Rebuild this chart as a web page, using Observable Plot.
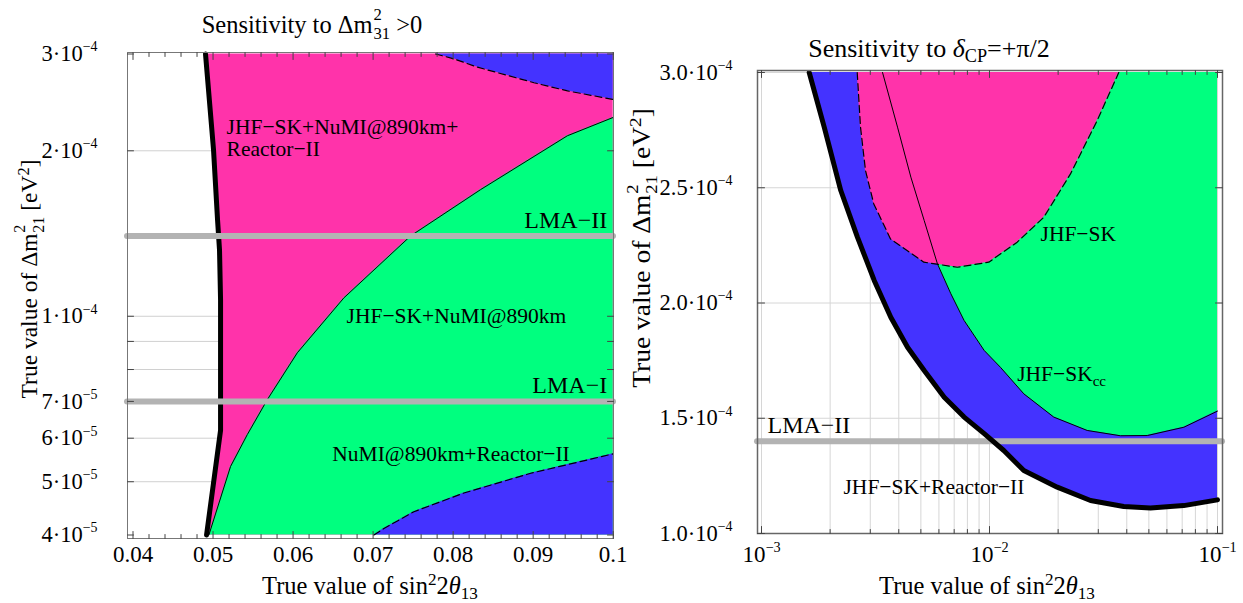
<!DOCTYPE html>
<html>
<head>
<meta charset="utf-8">
<script src="https://cdn.jsdelivr.net/npm/d3@7"></script>
<script src="https://cdn.jsdelivr.net/npm/@observablehq/plot@0.6"></script>
<style>
  html, body { margin: 0; padding: 0; background: #fff; }
  #wrap { position: relative; width: 1243px; height: 603px; overflow: hidden; font-family: "Liberation Serif", "DejaVu Serif", serif; color: #000; background: #fff; }
  .panel { position: absolute; top: 0; }
  .lbl { position: absolute; white-space: nowrap; transform: translate(-50%, -50%); line-height: 1; }
  .rot { transform: translate(-50%, -50%) rotate(-90deg); }
  .rot2 { transform: translate(-50%, -50%) rotate(-90deg) scaleX(1.1); }
  .title { font-size: 26px; }
  .axl { font-size: 24.5px; }
  .sup { font-size: 70%; vertical-align: 0.5em; line-height: 0; }
  .sub { font-size: 70%; vertical-align: -0.3em; line-height: 0; }
  .ss { display: inline-block; position: relative; width: 1.05em; height: 1em; font-size: 0.68em; }
  .ss span { position: absolute; left: 0.05em; line-height: 1; }
  .ss .u { top: -0.55em; }
  .ss .d { top: 0.6em; }
</style>
</head>
<body>
<div id="wrap">
  <div id="left" class="panel" style="left:0px"></div>
  <div id="right" class="panel" style="left:620px"></div>
  <div class="lbl title" style="left:312px;top:25px;font-size:24.5px">Sensitivity to Δm<span class="ss"><span class="u">2</span><span class="d">31</span></span> &gt;0</div>
  <div class="lbl title" style="left:929px;top:49px">Sensitivity to <i>δ</i><span class="sub">CP</span>=+π/2</div>
  <div class="lbl axl" style="left:370px;top:586px">True value of sin<span class="sup">2</span>2<i>θ</i><span class="sub">13</span></div>
  <div class="lbl axl" style="left:987px;top:586px">True value of sin<span class="sup">2</span>2<i>θ</i><span class="sub">13</span></div>
  <div class="lbl axl rot" style="left:30px;top:279px;font-size:23.5px">True value of Δm<span class="ss"><span class="u">2</span><span class="d">21</span></span> [eV<span class="sup">2</span>]</div>
  <div class="lbl axl rot2" style="left:641px;top:248px;font-size:25px">True value of Δm<span class="ss"><span class="u">2</span><span class="d">21</span></span> [eV<span class="sup">2</span>]</div>
</div>
<script>
// ================= LEFT PANEL: Sensitivity to Δm²31 > 0 =================
const leftXTicks = [0.04, 0.05, 0.06, 0.07, 0.08, 0.09, 0.1];
const leftXTickLabels = ["0.04", "0.05", "0.06", "0.07", "0.08", "0.09", "0.1"];
const leftYTicks = [4e-5, 5e-5, 6e-5, 7e-5, 1e-4, 2e-4, 3e-4];
const leftYTickLabels = ["4·10^−5", "5·10^−5", "6·10^−5", "7·10^−5", "1·10^−4", "2·10^−4", "3·10^−4"];
const leftYGrid = [5e-5, 6e-5, 7e-5, 8e-5, 9e-5, 1e-4, 2e-4];
const leftXDomain = [0.04, 0.1];
const leftYDomain = [4e-5, 3e-4];

// JHF-SK+NuMI@890km+Reactor-II (thick black boundary)
const allS  = [0.04906, 0.05006, 0.05056, 0.05081, 0.05094, 0.05094, 0.04919];
const allDm = [3.0e-4, 2.01e-4, 1.50e-4, 1.32e-4, 1.07e-4, 6.2e-5, 4.0e-5];
// JHF-SK+NuMI@890km (thin solid boundary)
const jnS  = [0.04948, 0.05219, 0.05428, 0.05678, 0.06053, 0.06635, 0.07469, 0.08344, 0.09428, 0.1];
const jnDm = [4.0e-5, 5.33e-5, 6.09e-5, 7.05e-5, 8.58e-5, 1.08e-4, 1.40e-4, 1.70e-4, 2.13e-4, 2.30e-4];
// NuMI@890km+Reactor-II (dashed, lower region)
const nrLowS  = [0.0701, 0.07135, 0.0751, 0.08135, 0.08969, 0.1];
const nrLowDm = [4.0e-5, 4.11e-5, 4.41e-5, 4.77e-5, 5.18e-5, 5.62e-5];
// NuMI@890km+Reactor-II (dashed, upper region)
const nrHighS  = [0.0778, 0.0801, 0.0830, 0.0901, 0.0943, 0.1];
const nrHighDm = [3.0e-4, 2.94e-4, 2.84e-4, 2.66e-4, 2.57e-4, 2.48e-4];
// LMA solutions
const leftLma = [7e-5, 1.4e-4];
const leftLmaNames = ["LMA−I", "LMA−II"];

// ================= RIGHT PANEL: Sensitivity to δCP = +π/2 =================
const rightXTicks = [1e-3, 1e-2, 1e-1];
const rightXTickLabels = ["10^−3", "10^−2", "10^−1"];
const rightYTicks = [1.0e-4, 1.5e-4, 2.0e-4, 2.5e-4, 3.0e-4];
const rightYTickLabels = ["1.0·10^−4", "1.5·10^−4", "2.0·10^−4", "2.5·10^−4", "3.0·10^−4"];
const rightXDomain = [1e-3, 1e-1];
const rightYDomain = [1e-4, 3e-4];

// JHF-SK+Reactor-II (thick black)
const jrS  = [1.619e-3, 1.884e-3, 2.227e-3, 2.637e-3, 3.121e-3, 3.69e-3, 4.37e-3, 5.17e-3, 6.33e-3, 7.74e-3, 9.48e-3, 1.155e-2, 1.414e-2, 1.982e-2, 2.773e-2, 3.88e-2, 5.08e-2, 7.11e-2, 0.1];
const jrDm = [3.0e-4, 2.763e-4, 2.488e-4, 2.285e-4, 2.098e-4, 1.938e-4, 1.808e-4, 1.707e-4, 1.591e-4, 1.505e-4, 1.433e-4, 1.360e-4, 1.273e-4, 1.201e-4, 1.143e-4, 1.117e-4, 1.111e-4, 1.121e-4, 1.146e-4];
// JHF-SK_cc (thin solid)
const ccS  = [3.395e-3, 3.95e-3, 4.52e-3, 5.17e-3, 5.91e-3, 6.77e-3, 7.74e-3, 9.48e-3, 1.117e-2, 1.414e-2, 1.914e-2, 2.683e-2, 3.755e-2, 4.92e-2, 7.12e-2, 0.1];
const ccDm = [3.0e-4, 2.763e-4, 2.546e-4, 2.358e-4, 2.170e-4, 2.040e-4, 1.924e-4, 1.794e-4, 1.721e-4, 1.606e-4, 1.505e-4, 1.447e-4, 1.424e-4, 1.425e-4, 1.461e-4, 1.531e-4];
// JHF-SK (dashed)
const jS  = [2.629e-3, 2.718e-3, 2.858e-3, 3.108e-3, 3.68e-3, 5.15e-3, 7.22e-3, 9.93e-3, 1.323e-2, 1.731e-2, 2.266e-2, 2.968e-2, 3.69e-2];
const jDm = [3.0e-4, 2.763e-4, 2.575e-4, 2.430e-4, 2.278e-4, 2.177e-4, 2.155e-4, 2.177e-4, 2.264e-4, 2.372e-4, 2.560e-4, 2.792e-4, 3.0e-4];
const rightLma = [1.4e-4];
const rightLmaNames = ["LMA−II"];

// ================= styling =================
const PINK = "#ff33aa", GREEN = "#00ff7f", BLUE = "#4433ff", LMA_GRAY = "#b3b3b3";
const zip = (xs, ys) => xs.map((x, i) => ({x, y: ys[i]}));

const tickShape = {draw(ctx, l) { ctx.moveTo(0, 0); ctx.lineTo(0, -l); }};
const rot = {bottom: 0, top: 180, left: 90, right: 270};
function inTicks(values, dim, side, len) {
  return Plot.vector(values, {[dim]: d => d, frameAnchor: side, length: len, rotate: rot[side],
    anchor: "start", shape: tickShape, stroke: "#444", strokeWidth: 1});
}

// superscript / subscript post-processing of SVG texts ("^" or "_" marker)
function richify(svg) {
  const ns = "http://www.w3.org/2000/svg";
  svg.querySelectorAll("text").forEach(t => {
    if (t.querySelector("tspan")) return;
    const s = t.textContent;
    const m = s.match(/^(.*?)([\^_])(.*)$/);
    if (!m) return;
    t.textContent = "";
    const a = document.createElementNS(ns, "tspan"); a.textContent = m[1]; t.appendChild(a);
    const b = document.createElementNS(ns, "tspan"); b.textContent = m[3];
    b.setAttribute("font-size", m[2] === "^" ? "62%" : "70%");
    b.setAttribute("dy", m[2] === "^" ? "-0.7em" : "0.35em");
    t.appendChild(b);
  });
}

// ---------- left plot ----------
const allT = zip(allS, allDm), jnT = zip(jnS, jnDm), nrLowT = zip(nrLowS, nrLowDm), nrHighT = zip(nrHighS, nrHighDm);
const leftMinorX = d3.range(0.042, 0.1, 0.002).filter(v => Math.abs(v * 100 - Math.round(v * 100)) > 1e-6);
const leftPlot = Plot.plot({
  width: 620, height: 603,
  marginLeft: 127, marginRight: 7, marginTop: 52, marginBottom: 65,
  style: {fontFamily: "Liberation Serif, serif", fontSize: "22px", background: "transparent", overflow: "visible"},
  x: {type: "linear", domain: leftXDomain, range: [132.5, 612.7]},
  y: {type: "log", domain: leftYDomain, range: [534.5, 53.5]},
  marks: [
    Plot.ruleY(leftYGrid, {stroke: "#d0d0d0", strokeWidth: 1}),
    Plot.areaX(allT, {y: "y", x1: "x", x2: leftXDomain[1], fill: PINK, curve: "linear"}),
    Plot.areaX(jnT, {y: "y", x1: "x", x2: leftXDomain[1], fill: GREEN, curve: "linear"}),
    Plot.areaY(nrLowT, {x: "x", y1: leftYDomain[0], y2: "y", fill: BLUE, curve: "linear"}),
    Plot.areaY(nrHighT, {x: "x", y1: "y", y2: leftYDomain[1], fill: BLUE, curve: "linear"}),
    Plot.line(jnT, {x: "x", y: "y", stroke: "#000", strokeWidth: 1}),
    Plot.line(nrLowT, {x: "x", y: "y", stroke: "#000", strokeWidth: 1.2, strokeDasharray: "7,4"}),
    Plot.line(nrHighT, {x: "x", y: "y", stroke: "#000", strokeWidth: 1.2, strokeDasharray: "7,4"}),
    Plot.line(allT, {x: "x", y: "y", stroke: "#000", strokeWidth: 5, strokeLinecap: "round", strokeLinejoin: "round"}),
    Plot.ruleY(leftLma, {stroke: LMA_GRAY, strokeWidth: 6, strokeLinecap: "round"}),
    Plot.text(leftLma, {x: leftXDomain[1], y: d => d, text: (d, i) => leftLmaNames[i], textAnchor: "end", dx: -6, dy: -16, fontSize: 24, lineAnchor: "middle"}),
    Plot.text(["JHF−SK+NuMI@890km+\nReactor−II"], {x: 0.05169, y: 2.11e-4, text: d => d, textAnchor: "start", lineAnchor: "middle", lineHeight: 1.03, fontSize: 21.5}),
    Plot.text(["JHF−SK+NuMI@890km"], {x: 0.06669, y: 1.0e-4, text: d => d, textAnchor: "start", lineAnchor: "middle", fontSize: 21.5}),
    Plot.text(["NuMI@890km+Reactor−II"], {x: 0.0649, y: 5.62e-5, text: d => d, textAnchor: "start", lineAnchor: "middle", fontSize: 21.5}),
    Plot.frame({stroke: "#777", strokeWidth: 1}),
    inTicks(leftXTicks, "x", "bottom", 7),
    inTicks(leftXTicks, "x", "top", 7),
    inTicks(leftMinorX, "x", "bottom", 4),
    inTicks(leftMinorX, "x", "top", 4),
    inTicks(leftYTicks.concat([8e-5, 9e-5]), "y", "left", 6),
    inTicks(leftYTicks.concat([8e-5, 9e-5]), "y", "right", 6),
    Plot.axisX({ticks: leftXTicks, tickFormat: d => leftXTickLabels[leftXTicks.indexOf(d)], tickSize: 0, tickPadding: 7, fontSize: 23, label: null}),
    Plot.axisY({ticks: leftYTicks, tickFormat: d => leftYTickLabels[leftYTicks.indexOf(d)], tickSize: 0, tickPadding: 30, fontSize: 22.5, label: null})
  ]
});
richify(leftPlot);
document.getElementById("left").appendChild(leftPlot);

// ---------- right plot ----------
const jrT = zip(jrS, jrDm), ccT = zip(ccS, ccDm), jT = zip(jS, jDm);
const rightMinor = [1e-3, 1e-2].flatMap(p => d3.range(2, 10).map(k => k * p));
const rightPlot = Plot.plot({
  width: 623, height: 603,
  marginLeft: 137, marginRight: 21, marginTop: 70, marginBottom: 70,
  style: {fontFamily: "Liberation Serif, serif", fontSize: "22px", background: "transparent", overflow: "visible"},
  x: {type: "log", domain: rightXDomain, range: [141, 597]},
  y: {type: "linear", domain: rightYDomain, range: [533, 72]},
  marks: [
    Plot.ruleX(rightXTicks.concat(rightMinor), {stroke: "#d6d6d6", strokeWidth: 1}),
    Plot.ruleY(rightYTicks, {stroke: "#d6d6d6", strokeWidth: 1}),
    Plot.areaY(jrT, {x: "x", y1: "y", y2: rightYDomain[1], fill: BLUE, curve: "linear"}),
    Plot.areaY(ccT, {x: "x", y1: "y", y2: rightYDomain[1], fill: GREEN, curve: "linear"}),
    Plot.areaY(jT, {x: "x", y1: "y", y2: rightYDomain[1], fill: PINK, curve: "linear"}),
    Plot.line(ccT, {x: "x", y: "y", stroke: "#000", strokeWidth: 1}),
    Plot.line(jT, {x: "x", y: "y", stroke: "#000", strokeWidth: 1.2, strokeDasharray: "7,4"}),
    Plot.ruleY(rightLma, {stroke: LMA_GRAY, strokeWidth: 6, strokeLinecap: "round"}),
    Plot.line(jrT, {x: "x", y: "y", stroke: "#000", strokeWidth: 5, strokeLinecap: "round", strokeLinejoin: "round"}),
    Plot.text(rightLma, {x: rightXDomain[0], y: d => d, text: (d, i) => rightLmaNames[i], textAnchor: "start", dx: 6, dy: -16, fontSize: 24, lineAnchor: "middle"}),
    Plot.text(["JHF−SK"], {x: 1.674e-2, y: 2.30e-4, text: d => d, textAnchor: "start", lineAnchor: "middle", fontSize: 21.5}),
    Plot.text(["JHF−SK_cc"], {x: 1.323e-2, y: 1.693e-4, text: d => d, textAnchor: "start", lineAnchor: "middle", fontSize: 21.5}),
    Plot.text(["JHF−SK+Reactor−II"], {x: 2.289e-3, y: 1.2e-4, text: d => d, textAnchor: "start", lineAnchor: "middle", fontSize: 21.5}),
    Plot.frame({stroke: "#666", strokeWidth: 1.5}),
    inTicks(rightXTicks, "x", "bottom", 7),
    inTicks(rightXTicks, "x", "top", 7),
    inTicks(rightMinor, "x", "bottom", 4),
    inTicks(rightMinor, "x", "top", 4),
    inTicks(rightYTicks, "y", "left", 7),
    inTicks(rightYTicks, "y", "right", 7),
    Plot.axisX({ticks: rightXTicks, tickFormat: d => rightXTickLabels[rightXTicks.indexOf(d)], tickSize: 0, tickPadding: 12, fontSize: 23, label: null}),
    Plot.axisY({ticks: rightYTicks, tickFormat: d => rightYTickLabels[rightYTicks.indexOf(d)], tickSize: 0, tickPadding: 25, fontSize: 22.5, label: null})
  ]
});
richify(rightPlot);
document.getElementById("right").appendChild(rightPlot);
</script>
</body>
</html>
